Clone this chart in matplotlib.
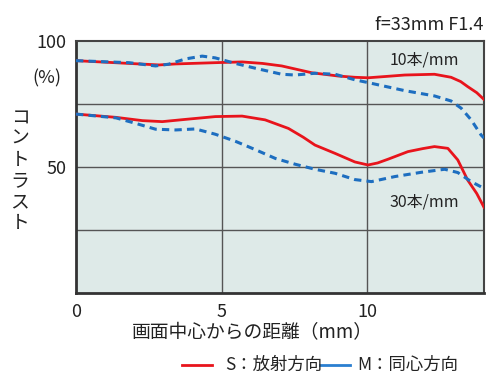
import matplotlib
matplotlib.use("Agg")
import matplotlib.pyplot as plt
from matplotlib.lines import Line2D

plt.rcParams['font.family'] = ['Noto Sans CJK JP', 'DejaVu Sans']

# distance from image centre (mm)
x10s = [0, 1.82, 2.85, 3.42, 4.78, 5.70, 6.40, 7.06, 8.09, 9.00, 9.57, 10.02, 10.60, 11.28, 12.30, 12.87, 13.20, 13.44, 13.75, 14.0]
y10s = [92.2, 91.1, 90.5, 90.9, 91.4, 91.7, 91.1, 90.1, 87.4, 86.1, 85.6, 85.4, 85.9, 86.5, 86.8, 85.6, 83.9, 81.9, 79.5, 76.8]

x10m = [0, 1.82, 2.73, 3.18, 3.76, 4.33, 4.78, 5.47, 6.15, 7.06, 7.52, 8.20, 8.89, 9.57, 10.02, 11.28, 12.30, 12.87, 13.22, 13.56, 13.90, 14.0]
y10m = [92.2, 91.4, 90.1, 90.8, 92.9, 94.0, 93.3, 91.1, 89.2, 86.8, 86.5, 87.2, 86.8, 84.6, 83.5, 80.3, 78.2, 76.2, 73.3, 68.7, 62.7, 61.5]

x30s = [0, 1.37, 2.28, 2.96, 3.76, 4.78, 5.70, 6.49, 7.29, 7.80, 8.20, 8.89, 9.57, 10.02, 10.35, 10.71, 11.39, 11.90, 12.30, 12.76, 13.10, 13.44, 13.75, 14.0]
y30s = [71.0, 69.7, 68.4, 68.0, 68.9, 70.0, 70.2, 68.7, 65.3, 61.8, 58.7, 55.4, 52.0, 50.8, 51.6, 53.1, 56.1, 57.3, 58.1, 57.4, 52.8, 44.8, 39.5, 34.0]

x30m = [0, 1.37, 2.05, 2.73, 3.42, 4.10, 4.78, 5.47, 6.15, 6.84, 7.52, 8.20, 8.89, 9.57, 10.14, 10.94, 11.85, 12.65, 13.10, 13.56, 14.0]
y30m = [71.0, 69.5, 67.3, 65.0, 64.7, 65.1, 63.0, 60.2, 56.9, 53.4, 51.1, 49.1, 47.5, 45.0, 44.2, 46.2, 47.9, 49.1, 47.8, 44.2, 41.5]

xticks = [0, 5, 10]
xticklabels = ['0', '5', '10']
yticks = [50, 100]
yticklabels = ['50', '100']

red = '#e8141c'
blue = '#1d6ec0'
bg = '#deeae8'
txt = '#222222'

fig = plt.figure(figsize=(5.0, 3.92), dpi=100)
ax = fig.add_axes([0.152, 0.2526, 0.816, 0.6428])
ax.set_facecolor(bg)
ax.set_xlim(0, 14)
ax.set_ylim(0, 100)

for gx in [5, 10]:
    ax.axvline(gx, color='#555555', lw=1.0, zorder=1)
for gy in [25, 50, 75]:
    ax.axhline(gy, color='#555555', lw=1.0, zorder=1)

ax.plot(x10s, y10s, color=red, lw=2.0, zorder=3, solid_joinstyle='round')
ax.plot(x30s, y30s, color=red, lw=2.0, zorder=3, solid_joinstyle='round')
ax.plot(x10m, y10m, color=blue, lw=2.2, ls=(0, (2.4, 1.7)), zorder=4)
ax.plot(x30m, y30m, color=blue, lw=2.2, ls=(0, (2.4, 1.7)), zorder=4)

for s in ['left', 'bottom']:
    ax.spines[s].set_linewidth(2.0)
    ax.spines[s].set_color('#333333')
for s in ['top', 'right']:
    ax.spines[s].set_linewidth(1.5)
    ax.spines[s].set_color('#444444')

ax.set_xticks(xticks)
ax.set_xticklabels(xticklabels)
ax.set_yticks(yticks)
ax.set_yticklabels(yticklabels)
ax.tick_params(length=0, labelsize=13, colors=txt, pad=7)

ax.text(-0.5, 85, '(%)', ha='right', va='center', fontsize=13, color=txt)
ax.text(11.96, 92.5, '10本/mm', ha='center', va='center', fontsize=11.5, color=txt)
ax.text(11.96, 36.1, '30本/mm', ha='center', va='center', fontsize=11.5, color=txt)

fig.text(0.966, 0.935, 'f=33mm F1.4', ha='right', va='center', fontsize=13, color=txt)
fig.text(0.504, 0.15, '画面中心からの距離（mm）', ha='center', va='center', fontsize=13.5, color=txt)
fig.text(0.04, 0.566, 'コ\nン\nト\nラ\nス\nト', ha='center', va='center', fontsize=13.5,
         color=txt, linespacing=1.0)

# legend
fig.add_artist(Line2D([182/500, 212/500], [1-365/392, 1-365/392], color=red, lw=2.0))
fig.text(225/500, 1-365/392, 'S：放射方向', ha='left', va='center', fontsize=12.5, color=txt)
fig.add_artist(Line2D([320/500, 350/500], [1-365/392, 1-365/392], color='#2a7fd0', lw=2.0))
fig.text(357/500, 1-365/392, 'M：同心方向', ha='left', va='center', fontsize=12.5, color=txt)

fig.savefig('out.png', dpi=100)
